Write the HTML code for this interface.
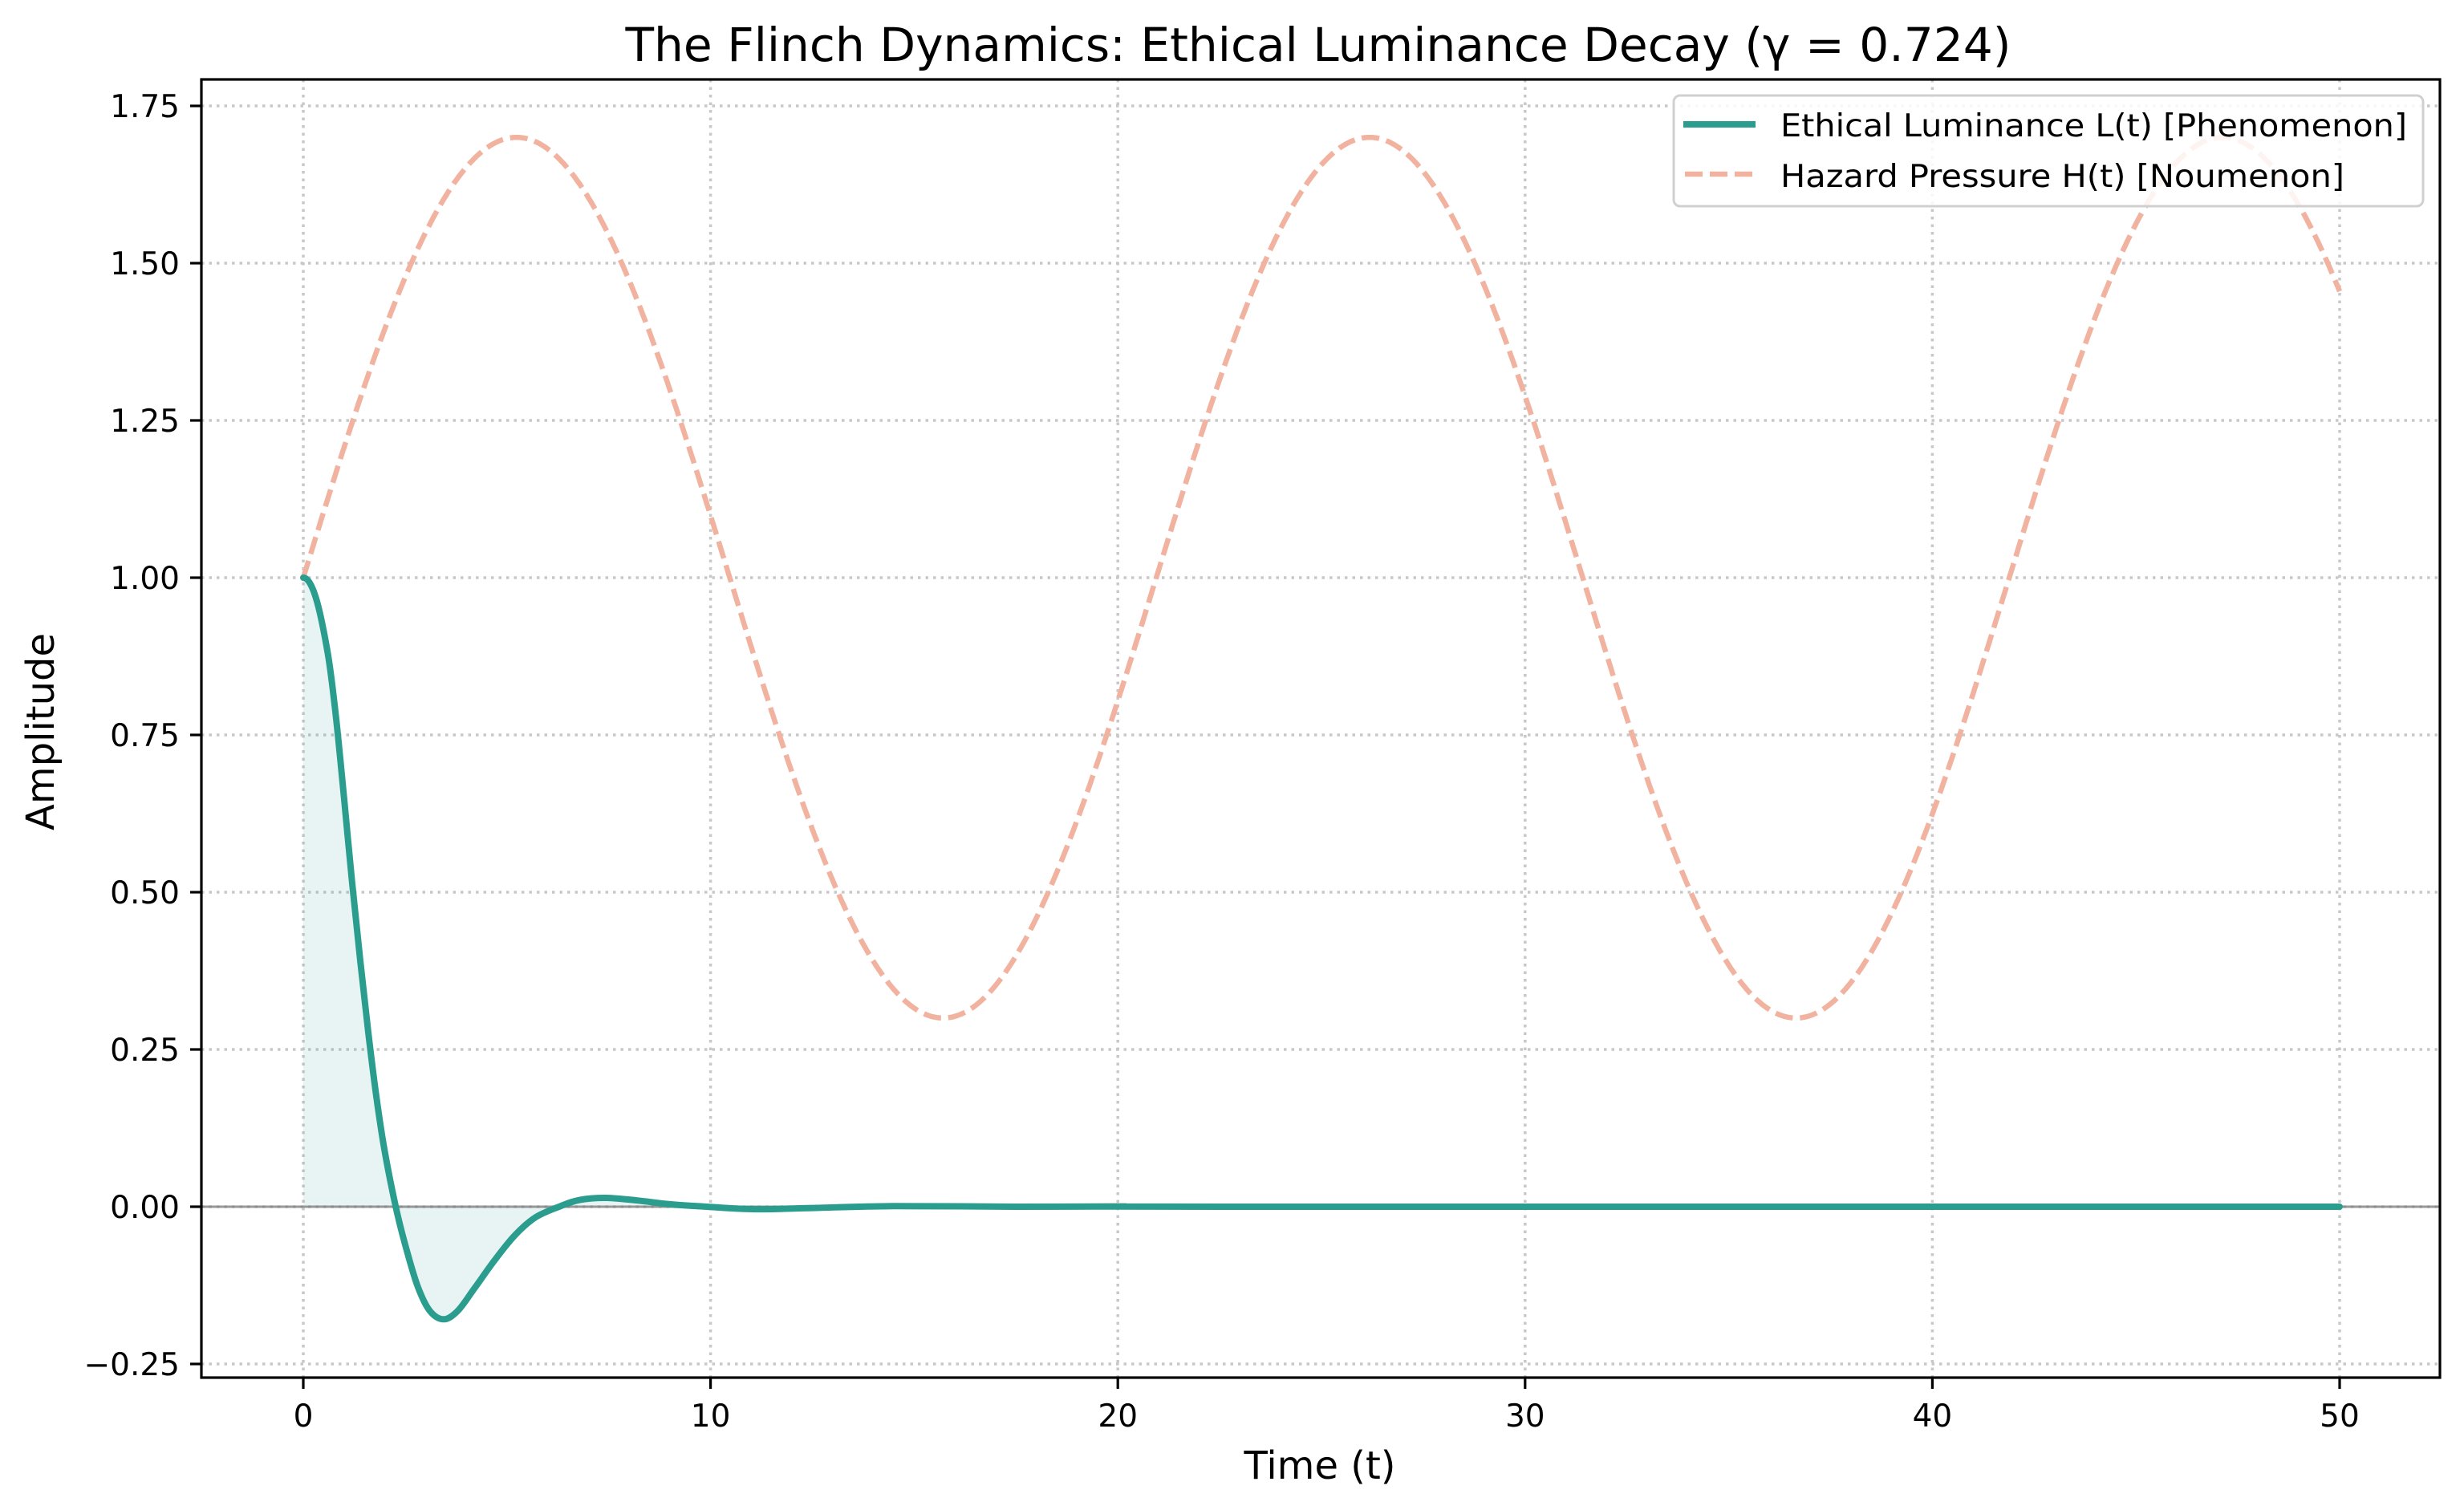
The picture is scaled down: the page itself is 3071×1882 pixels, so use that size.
<!DOCTYPE html>
<html><head><meta charset="utf-8"><style>html,body{margin:0;padding:0;background:#fff}svg{display:block}text{font-family:"DejaVu Sans","Liberation Sans",sans-serif;fill:#000}</style></head>
<body>
<svg id="s" width="3071" height="1882" viewBox="0 0 3071 1882" xmlns="http://www.w3.org/2000/svg">
<rect width="3071" height="1882" fill="#fff"/>
<g id="grid" stroke="#c8c8c8" stroke-width="3.5" stroke-dasharray="3.5,6"></g>
<path id="fill" fill="#2a9d8f" fill-opacity="0.11" stroke="none"/>
<line x1="251" y1="1504" x2="3041" y2="1504" stroke="#808080" stroke-width="3" stroke-opacity="0.8"/>
<path id="H" fill="none" stroke="#f1b3a0" stroke-width="6.5" stroke-dasharray="22,9"/>
<path id="L" fill="none" stroke="#2a9d8f" stroke-width="8" stroke-linejoin="round" stroke-linecap="round"/>
<rect x="251" y="99" width="2790" height="1618" fill="none" stroke="#000" stroke-width="3.2"/>
<g id="ticks" stroke="#000" stroke-width="3.2"></g>
<g id="tl" font-size="39"></g>
<text x="1643" y="76" font-size="58" text-anchor="middle" textLength="1727" lengthAdjust="spacingAndGlyphs">The Flinch Dynamics: Ethical Luminance Decay (γ = 0.724)</text>
<text x="1645" y="1843" font-size="48" text-anchor="middle">Time (t)</text>
<text transform="translate(67,912) rotate(-90)" font-size="48" text-anchor="middle">Amplitude</text>
<rect x="2086" y="119" width="934" height="138" rx="8" fill="#fff" fill-opacity="0.85" stroke="#d0d0d0" stroke-width="3"/>
<line x1="2098" y1="155" x2="2188" y2="155" stroke="#2a9d8f" stroke-width="8"/>
<line x1="2100" y1="217" x2="2188" y2="217" stroke="#f1b3a0" stroke-width="6.5" stroke-dasharray="22,9"/>
<text x="2219" y="170" font-size="39" textLength="781" lengthAdjust="spacingAndGlyphs">Ethical Luminance L(t) [Phenomenon]</text>
<text x="2219" y="233" font-size="39" textLength="703" lengthAdjust="spacingAndGlyphs">Hazard Pressure H(t) [Noumenon]</text>
</svg>
<script>
(function(){
var NS="http://www.w3.org/2000/svg";
function X(t){return 378+50.76*t;}function Y(v){return 1504-784*v;}
function el(p,n,a,txt){var e=document.createElementNS(NS,n);for(var k in a)e.setAttribute(k,a[k]);if(txt!=null)e.textContent=txt;document.getElementById(p).appendChild(e);}
var xt=[0,10,20,30,40,50],yt=[-0.25,0,0.25,0.5,0.75,1,1.25,1.5,1.75];
xt.forEach(function(t){var x=X(t);el("grid","line",{x1:x,y1:99,x2:x,y2:1717});el("ticks","line",{x1:x,y1:1717,x2:x,y2:1731});el("tl","text",{x:x,y:1778,"text-anchor":"middle"},String(t));});
yt.forEach(function(v){var y=Y(v);el("grid","line",{x1:251,y1:y,x2:3041,y2:y});el("ticks","line",{x1:237,y1:y,x2:251,y2:y});el("tl","text",{x:224,y:y+14,"text-anchor":"end"},(v<0?"\u2212":"")+Math.abs(v).toFixed(2));});
var h="";for(var i=0;i<=1000;i++){var t=i*0.05;h+=(i?"L":"M")+X(t).toFixed(1)+","+Y(1+0.7*Math.sin(0.3*t)).toFixed(1);}
document.getElementById("H").setAttribute("d",h);
var P=[[0,1],[0.3,0.97],[0.6,0.88],[0.8,0.78],[1.0,0.65],[1.2,0.515],[1.4,0.39],[1.6,0.275],[1.8,0.172],[2.0,0.088],[2.27,0],[2.5,-0.06],[2.8,-0.125],[3.1,-0.165],[3.45,-0.179],[3.8,-0.165],[4.2,-0.13],[4.7,-0.085],[5.2,-0.045],[5.7,-0.017],[6.28,0],[6.8,0.011],[7.45,0.014],[8.2,0.01],[9.0,0.004],[9.9,0],[11.1,-0.004],[12.5,-0.002],[14.5,0.001],[17.5,0],[20,0.0005],[23,0],[50,0]];
function cr(ps){var d="M"+ps[0][0].toFixed(1)+","+ps[0][1].toFixed(1);for(var i=0;i<ps.length-1;i++){var p1=ps[i],p2=ps[i+1],p0=ps[i-1]||[2*p1[0]-p2[0],p2[1]],p3=ps[i+2]||p2;
d+="C"+(p1[0]+(p2[0]-p0[0])/6).toFixed(1)+","+(p1[1]+(p2[1]-p0[1])/6).toFixed(1)+" "+(p2[0]-(p3[0]-p1[0])/6).toFixed(1)+","+(p2[1]-(p3[1]-p1[1])/6).toFixed(1)+" "+p2[0].toFixed(1)+","+p2[1].toFixed(1);}return d;}
var pp=P.map(function(p){return [X(p[0]),Y(p[1])];});
var d=cr(pp);document.getElementById("L").setAttribute("d",d);
document.getElementById("fill").setAttribute("d",d+"L"+X(50)+","+Y(0)+"L"+X(0)+","+Y(0)+"Z");
})();
</script>
</body></html>
